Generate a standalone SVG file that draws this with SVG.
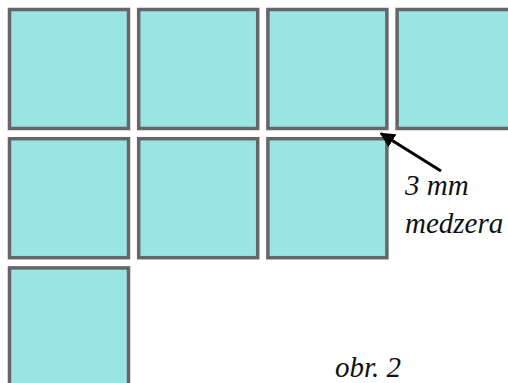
<svg xmlns="http://www.w3.org/2000/svg" width="508" height="383" viewBox="0 0 508 383">
<defs>
<style>
.tile{fill:#9ae4e6;stroke:#666;stroke-width:3.5}
.lbl{font-family:"Liberation Serif",serif;font-style:italic;font-size:29px;fill:#111}
</style>
<marker id="ah" viewBox="0 0 10 10" refX="9" refY="5" markerWidth="5" markerHeight="5" orient="auto" markerUnits="strokeWidth">
<path d="M0,0 L10,5 L0,10 z" fill="#000"/>
</marker>
</defs>
<rect width="508" height="383" fill="#fff"/>
<g id="t11"><rect class="tile" x="9.5" y="9.5" width="119" height="119"/></g>
<g id="t12"><rect class="tile" x="138.7" y="9.5" width="119" height="119"/></g>
<g id="t13"><rect class="tile" x="267.9" y="9.5" width="119" height="119"/></g>
<g id="t14"><rect class="tile" x="397.1" y="9.5" width="119" height="119"/></g>
<g id="t21"><rect class="tile" x="9.5" y="138.7" width="119" height="119"/></g>
<g id="t22"><rect class="tile" x="138.7" y="138.7" width="119" height="119"/></g>
<g id="t23"><rect class="tile" x="267.9" y="138.7" width="119" height="119"/></g>
<g id="t31"><rect class="tile" x="9.5" y="267.9" width="119" height="119"/></g>
<g id="connectors">
<line x1="441" y1="171" x2="381" y2="133.5" stroke="#000" stroke-width="3" marker-end="url(#ah)"/>
</g>
<g id="labels">
<text class="lbl" x="405" y="195">3 mm</text>
<text class="lbl" x="405" y="233">medzera</text>
<text class="lbl" x="335" y="377">obr. 2</text>
</g>
</svg>
